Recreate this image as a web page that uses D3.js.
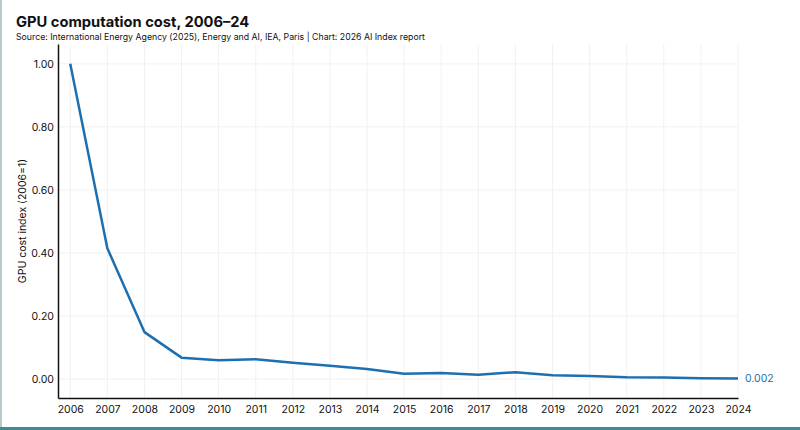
<!DOCTYPE html>
<html>
<head>
<meta charset="utf-8">
<script src="https://cdn.jsdelivr.net/npm/d3@7"></script>
<style>
  html, body { margin: 0; padding: 0; background: #fff; }
  body { width: 800px; height: 430px; overflow: hidden; font-family: Inter, "Noto Sans", sans-serif; }
</style>
</head>
<body>
<div id="chart"></div>
<script>
// GPU computation cost index, 2006 = 1
const years = [2006, 2007, 2008, 2009, 2010, 2011, 2012, 2013, 2014, 2015,
               2016, 2017, 2018, 2019, 2020, 2021, 2022, 2023, 2024];
const costIndex = [1.0, 0.415, 0.149, 0.068, 0.060, 0.063, 0.052, 0.042, 0.032, 0.017,
                   0.019, 0.014, 0.022, 0.012, 0.010, 0.006, 0.005, 0.003, 0.002];
const yTicks = [0, 0.2, 0.4, 0.6, 0.8, 1.0];

const W = 800, H = 430;
const margin = { top: 44, right: 62, bottom: 32, left: 58 };

const svg = d3.select("#chart").append("svg")
    .attr("width", W)
    .attr("height", H);

// page frame
svg.append("rect").attr("x", 0).attr("y", 0).attr("width", 2).attr("height", H).attr("fill", "#b4c9cb");
svg.append("rect").attr("x", 0).attr("y", H - 3).attr("width", W).attr("height", 3).attr("fill", "#3f8c90");

svg.append("text")
    .attr("x", 16).attr("y", 26.5)
    .attr("font-size", 14.7).attr("font-weight", 700).attr("fill", "#111")
    .text("GPU computation cost, 2006–24");

svg.append("text")
    .attr("x", 16).attr("y", 39.5)
    .attr("font-size", 8.75).attr("fill", "#111")
    .text("Source: International Energy Agency (2025), Energy and AI, IEA, Paris | Chart: 2026 AI Index report");

const x = d3.scaleLinear()
    .domain([2005.67, 2024])
    .range([margin.left, W - margin.right]);

const y = d3.scaleLinear()
    .domain([-0.06, 1.063])
    .range([H - margin.bottom, margin.top]);

// gridlines
svg.append("g").selectAll("line.vg")
    .data(years).join("line")
    .attr("x1", d => x(d)).attr("x2", d => x(d))
    .attr("y1", margin.top).attr("y2", H - margin.bottom)
    .attr("stroke", "#f1f1f1");
svg.append("g").selectAll("line.hg")
    .data(yTicks).join("line")
    .attr("x1", margin.left).attr("x2", W - margin.right)
    .attr("y1", d => y(d)).attr("y2", d => y(d))
    .attr("stroke", "#f1f1f1");

// axes
const xAxis = svg.append("g")
    .attr("transform", `translate(0,${H - margin.bottom})`)
    .call(d3.axisBottom(x).tickValues(years).tickFormat(d3.format("d")).tickSize(0).tickPadding(8));
const yAxis = svg.append("g")
    .attr("transform", `translate(${margin.left},0)`)
    .call(d3.axisLeft(y).tickValues(yTicks).tickFormat(d3.format(".2f")).tickSize(0).tickPadding(4));

[xAxis, yAxis].forEach(g => {
    g.select(".domain").attr("stroke", "#111").attr("stroke-width", 1.5);
    g.selectAll("text").attr("font-size", 10.5).attr("fill", "#111")
        .attr("font-family", "Inter, 'Noto Sans', sans-serif");
});

svg.append("text")
    .attr("transform", `translate(22,${(margin.top + H - margin.bottom) / 2}) rotate(-90)`)
    .attr("text-anchor", "middle")
    .attr("dy", "0.35em")
    .attr("font-size", 10.5).attr("fill", "#111")
    .text("GPU cost index (2006=1)");

const line = d3.line()
    .x((d, i) => x(years[i]))
    .y(d => y(d));

svg.append("path")
    .datum(costIndex)
    .attr("d", line)
    .attr("fill", "none")
    .attr("stroke", "#1c6fb0")
    .attr("stroke-width", 2.5)
    .attr("stroke-linejoin", "round");

const last = costIndex.length - 1;
svg.append("text")
    .attr("x", x(years[last]) + 7)
    .attr("y", y(costIndex[last]))
    .attr("dy", "0.35em")
    .attr("font-size", 10.5).attr("fill", "#1c6fb0")
    .text(costIndex[last].toFixed(3));
</script>
</body>
</html>
